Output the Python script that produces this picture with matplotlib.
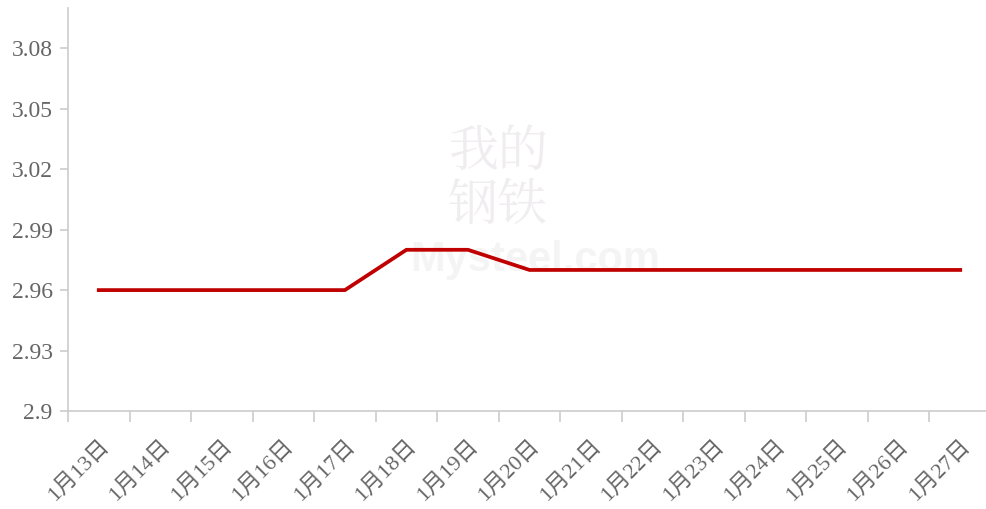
import matplotlib
matplotlib.use("Agg")
import matplotlib.pyplot as plt
import matplotlib.transforms as mtransforms
import numpy as np

categories = ["1月13日", "1月14日", "1月15日", "1月16日", "1月17日", "1月18日", "1月19日",
              "1月20日", "1月21日", "1月22日", "1月23日", "1月24日", "1月25日", "1月26日", "1月27日"]
values = [2.96, 2.96, 2.96, 2.96, 2.96, 2.98, 2.98, 2.97, 2.97, 2.97, 2.97, 2.97, 2.97, 2.97, 2.97]
yticks = [2.9, 2.93, 2.96, 2.99, 3.02, 3.05, 3.08]
ytick_labels = ["2.9", "2.93", "2.96", "2.99", "3.02", "3.05", "3.08"]

fonts = ["Liberation Serif", "Noto Sans CJK SC", "DejaVu Sans"]
plt.rcParams["font.family"] = fonts

fig = plt.figure(figsize=(9.86, 5.09), dpi=100)
ax = fig.add_axes([68/986, 98/509, (991-68)/986, (411-8)/509])

n = len(categories)
x = np.arange(n)
ax.plot(x, values, color="#c00000", lw=2.7, solid_joinstyle="miter", zorder=3)

ax.set_xlim(-0.5, n - 0.5)
ax.set_ylim(2.9, 3.1)

# watermark
ax.text(0.466, 0.575, "我的\n钢铁", transform=ax.transAxes, fontsize=36, color="#ebe6ea",
        alpha=0.7, ha="center", va="center", family=["Noto Serif CJK SC", "Noto Sans CJK SC"],
        linespacing=1.0, zorder=1)
ax.text(0.506, 0.375, "Mysteel.com", transform=ax.transAxes, fontsize=30, color="#f0f0f0",
        alpha=0.7, ha="center", va="center", family=["Liberation Sans"], fontweight="bold", zorder=1)

for s in ["top", "right"]:
    ax.spines[s].set_visible(False)
for s in ["left", "bottom"]:
    ax.spines[s].set_color("#cccccc")
    ax.spines[s].set_linewidth(1.2)

ax.set_yticks(yticks)
ax.set_yticklabels(ytick_labels)
ax.tick_params(axis="y", length=6, width=1.2, color="#cccccc", labelcolor="#666666",
               labelsize=17, pad=5)

ax.set_xticks(x)
ax.set_xticklabels(categories, rotation=45, ha="right", va="top", rotation_mode="anchor")
ax.tick_params(axis="x", which="major", length=0, labelcolor="#666666", labelsize=16, pad=18)
offset = mtransforms.ScaledTranslation(0/100, 0, fig.dpi_scale_trans)
for lab in ax.get_xticklabels():
    lab.set_transform(lab.get_transform() + offset)

ax.set_xticks(np.arange(n + 1) - 0.5, minor=True)
ax.tick_params(axis="x", which="minor", length=8, width=1.2, color="#cccccc")

fig.savefig("out.png", dpi=100, facecolor="white")
